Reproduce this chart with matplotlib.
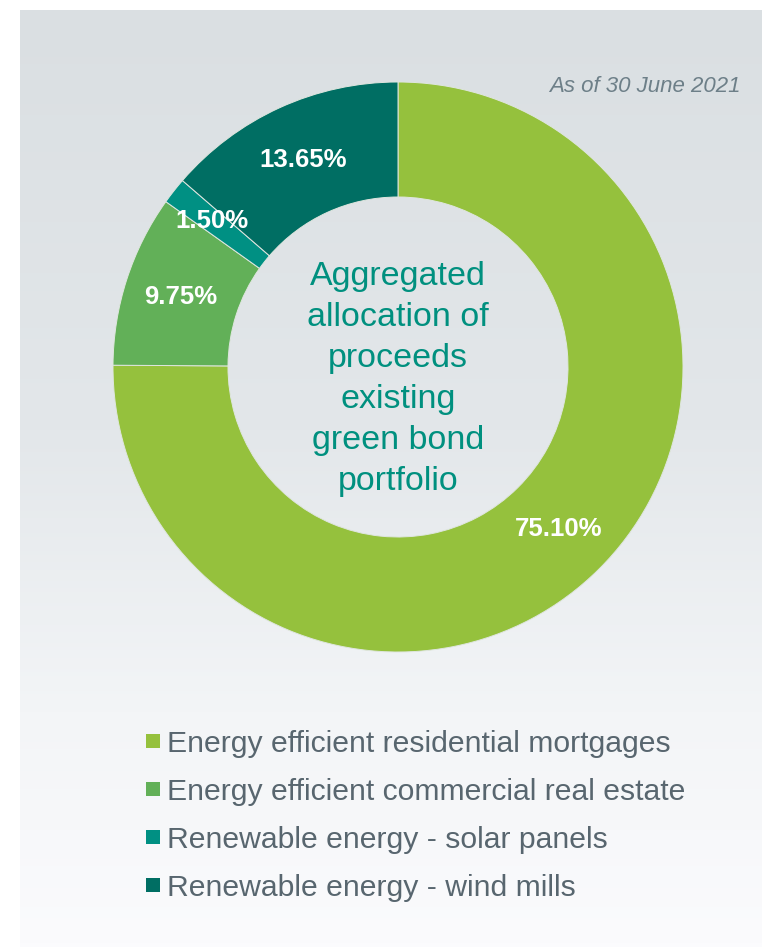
import numpy as np
import matplotlib
matplotlib.use("Agg")
import matplotlib.pyplot as plt
from matplotlib.patches import Rectangle
from matplotlib.colors import LinearSegmentedColormap

# ---- data ----
categories = [
    "Energy efficient residential mortgages",
    "Energy efficient commercial real estate",
    "Renewable energy - solar panels",
    "Renewable energy - wind mills",
]
shares = [75.10, 9.75, 1.50, 13.65]
colors = ["#95c13d", "#62b058", "#009083", "#006e63"]
center_title = "Aggregated\nallocation of\nproceeds\nexisting\ngreen bond\nportfolio"
date_note = "As of 30 June 2021"

W, H = 762, 947
fig = plt.figure(figsize=(W / 100, H / 100), dpi=100)
fig.patch.set_facecolor("white")

# background panel with vertical gradient
bg = fig.add_axes([20 / W, 0, 1 - 20 / W, (H - 10) / H])
bg.set_axis_off()
cmap = LinearSegmentedColormap.from_list(
    "bg", [(0, "#dadfe2"), (0.45, "#e3e7ea"), (0.75, "#f3f5f7"), (1.0, "#fbfbfd")])
grad = np.linspace(0, 1, 256).reshape(-1, 1)
bg.imshow(grad, aspect="auto", cmap=cmap, extent=[0, 1, 0, 1], origin="upper")
bg.set_xlim(0, 1)
bg.set_ylim(0, 1)

# donut
cx, cy, R = 398, 367, 285
ax = fig.add_axes([(cx - R) / W, (H - cy - R) / H, 2 * R / W, 2 * R / H])
ax.set_axis_off()
wedges, texts, autotexts = ax.pie(
    shares, colors=colors, startangle=90, counterclock=False,
    radius=1.0, autopct="%.2f%%", pctdistance=0.80,
    wedgeprops=dict(width=0.4035, edgecolor="#dfe6df", linewidth=0.7),
    textprops=dict(color="white", fontsize=18.5, fontweight="bold",
                   family=["Liberation Sans", "DejaVu Sans"]))
ax.set_xlim(-1, 1)
ax.set_ylim(-1, 1)

# push the thin-slice label slightly outward along its mid-angle
label_radius = {2: 0.83}
for i, t in enumerate(autotexts):
    if i in label_radius:
        x, y = t.get_position()
        ang = np.arctan2(y, x)
        r = label_radius[i]
        t.set_position((r * np.cos(ang), r * np.sin(ang)))

ax.text(0, -0.042, center_title, ha="center", va="center", color="#00907f",
        fontsize=24.5, linespacing=1.42, family=["Liberation Sans", "DejaVu Sans"])

# date note
fig.text(741 / W, (H - 92) / H, date_note, ha="right", va="baseline",
         fontsize=16, style="italic", color="#6d7f88",
         family=["Liberation Sans", "DejaVu Sans"])

# legend (manual, from the category list)
row0, step = 741, 48
for i, (lab, col) in enumerate(zip(categories, colors)):
    yc = row0 + i * step
    fig.patches.append(Rectangle((146 / W, (H - yc - 7) / H), 14 / W, 14 / H,
                                 transform=fig.transFigure, facecolor=col,
                                 edgecolor="none"))
    fig.text(167 / W, (H - yc) / H, lab, ha="left", va="center_baseline",
             fontsize=21.7, color="#58666f",
             family=["Liberation Sans", "DejaVu Sans"])

fig.savefig("out.png", dpi=100)
